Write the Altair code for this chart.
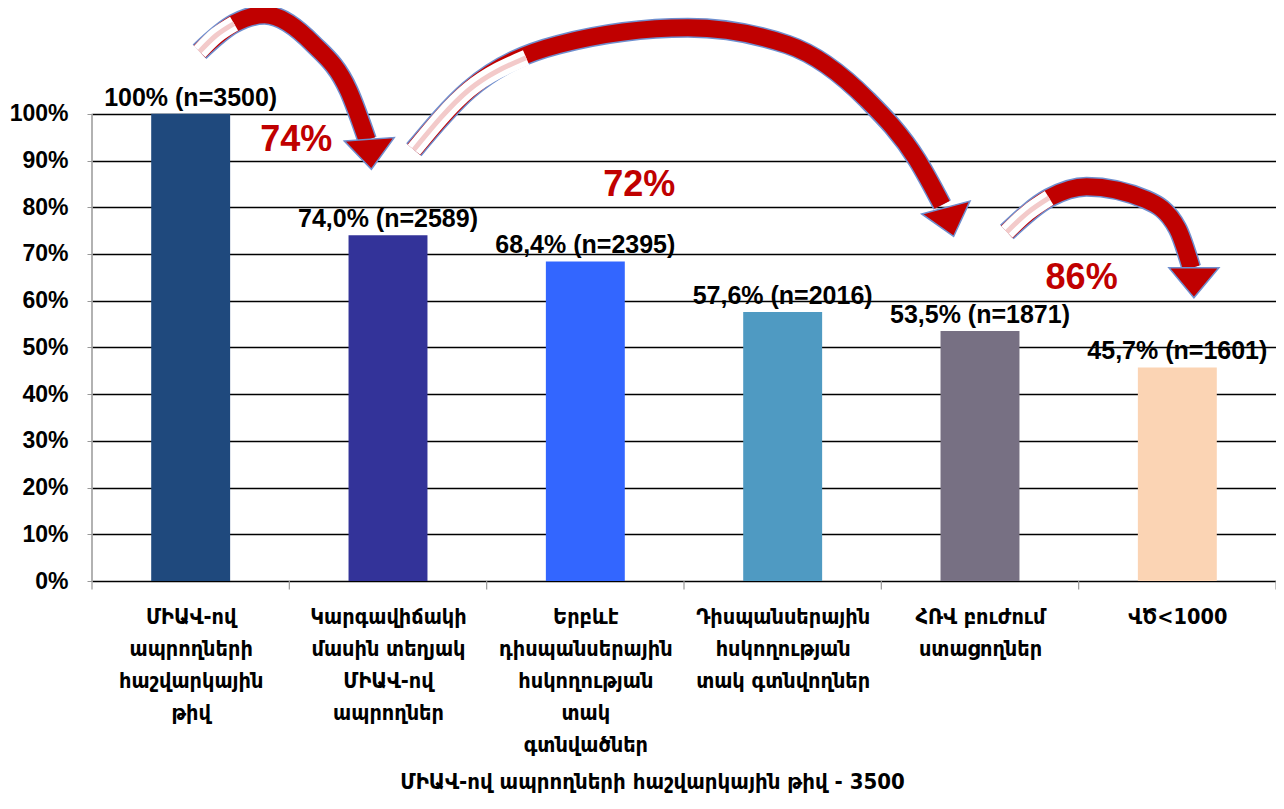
import altair as alt
import pandas as pd

# ---- data ----
categories = [
    "ՄԻԱՎ-ով|ապրողների|հաշվարկային|թիվ",
    "Կարգավիճակի|մասին տեղյակ|ՄԻԱՎ-ով|ապրողներ",
    "Երբևէ|դիսպանսերային|հսկողության|տակ|գտնվածներ",
    "Դիսպանսերային|հսկողության|տակ գտնվողներ",
    "ՀՌՎ բուժում|ստացողներ",
    "ՎԾ<1000",
]
values = [100.0, 74.0, 68.4, 57.6, 53.5, 45.7]
labels = ["100% (n=3500)", "74,0% (n=2589)", "68,4% (n=2395)",
          "57,6% (n=2016)", "53,5% (n=1871)", "45,7% (n=1601)"]
colors = ["#1F497D", "#333399", "#3366FF", "#4F9AC2", "#777083", "#FBD4B4"]

# conversion annotations (position in category units 0..6, y in %)
conv_text = ["74%", "72%", "86%"]
conv_x = [1.035, 2.773, 5.015]
conv_y = [94.3, 84.8, 64.9]

# full arrow paths (x in category units, y in %)
path_arrow = [1, 1, 1, 1, 1, 1,
              2, 2, 2, 2, 2, 2, 2, 2,
              3, 3, 3, 3, 3, 3]
path_x = [0.545, 0.72, 0.874, 1.12, 1.30, 1.394,
          1.631, 1.909, 2.364, 3.02, 3.525, 3.929, 4.182, 4.308,
          4.636, 4.85, 5.04, 5.343, 5.50, 5.571]
path_y = [113.3, 119.3, 121.2, 115.0, 105.0, 94.4,
          92.3, 105.1, 114.8, 118.4, 114.8, 103.0, 90.1, 80.5,
          74.7, 82.0, 84.4, 81.6, 75.5, 67.0]

# light (unfilled) rising part of each arrow
light_arrow = [1, 1, 1, 2, 2, 2, 3, 3, 3]
light_x = [0.545, 0.63, 0.72, 1.631, 1.909, 2.20, 4.636, 4.74, 4.85]
light_y = [113.3, 116.8, 119.3, 92.3, 105.1, 112.0, 74.7, 78.8, 82.0]

head_x = [1.410, 4.345, 5.584]
head_y = [91.6, 77.1, 64.1]
head_angle = [356, 345, 0]

# ---- frames ----
n = len(categories)
df = pd.DataFrame({"cat": categories, "val": values, "lab": labels})
df["pos"] = [i + 0.5 for i in range(n)]
df["x0"] = df["pos"] - 0.2
df["x1"] = df["pos"] + 0.2
path = pd.DataFrame({"arrow": path_arrow, "x": path_x, "y": path_y})
path["o"] = range(len(path))
light = pd.DataFrame({"arrow": light_arrow, "x": light_x, "y": light_y})
light["o"] = range(len(light))
heads = pd.DataFrame({"x": head_x, "y": head_y, "ang": head_angle})
conv = pd.DataFrame({"t": conv_text, "x": conv_x, "y": conv_y})
axline = pd.DataFrame({"y": [0], "y2": [100]})
ticks = pd.DataFrame({"x": list(range(n + 1)), "y": [0] * (n + 1), "y2": [-1.8] * (n + 1)})

LABEL_FONT = "Liberation Sans Narrow, Liberation Sans, Arial"
ARM_FONT = "DejaVu Sans Condensed, DejaVu Sans"

yscale = alt.Scale(domain=[0, 122], nice=False)
xlin = alt.Scale(domain=[0, n], nice=False, zero=False)

cat_js = "[" + ",".join("'" + c + "'" for c in categories) + "]"

yaxis = alt.Axis(
    values=list(range(0, 101, 10)), labelExpr="datum.value + '%'",
    title=None, domain=False, grid=True, gridColor="#000000", gridWidth=1.6,
    tickColor="#999999", tickSize=5, labelPadding=19,
    labelFont="Liberation Sans, Arial", labelFontSize=23, labelFontWeight="bold",
    labelColor="#000000",
)
xaxis = alt.Axis(
    title="ՄԻԱՎ-ով ապրողների հաշվարկային թիվ - 3500",
    values=[i + 0.5 for i in range(n)],
    labelExpr="split(" + cat_js + "[floor(datum.value)], '|')", labelAngle=0,
    labelFont=ARM_FONT, labelFontSize=21.5, labelFontWeight="bold",
    labelColor="#000000", labelLineHeight=32, labelPadding=25,
    labelBaseline="top", labelLimit=300, labelFlush=False, labelOverlap=False,
    domain=False, ticks=False, grid=False,
    titleFont=ARM_FONT, titleFontSize=22, titleFontWeight="bold",
    titleColor="#000000", titlePadding=16, titleX=560,
)

bars = alt.Chart(df).mark_bar().encode(
    x=alt.X("x0:Q", scale=xlin, axis=xaxis),
    x2="x1:Q",
    y=alt.Y("val:Q", scale=yscale, axis=yaxis),
    y2=alt.datum(0),
    color=alt.Color("cat:N", scale=alt.Scale(domain=categories, range=colors), legend=None),
)
texts = alt.Chart(df).mark_text(
    baseline="bottom", dy=-3, font=LABEL_FONT, fontSize=25, fontWeight="bold", color="#000000"
).encode(
    x=alt.X("pos:Q", scale=xlin),
    y=alt.Y("val:Q", scale=yscale),
    text="lab:N",
)
leftline = alt.Chart(axline).mark_rule(color="#999999", strokeWidth=1.5).encode(
    x=alt.value(0), y=alt.Y("y:Q", scale=yscale), y2="y2:Q"
)
tick_layer = alt.Chart(ticks).mark_rule(color="#999999", strokeWidth=1.2, clip=False).encode(
    x=alt.X("x:Q", scale=xlin), y=alt.Y("y:Q", scale=yscale), y2="y2:Q"
)

def line_layer(data, color, width):
    return alt.Chart(data).mark_line(
        interpolate="monotone", color=color, strokeWidth=width, strokeCap="butt"
    ).encode(
        x=alt.X("x:Q", scale=xlin),
        y=alt.Y("y:Q", scale=yscale),
        detail="arrow:N",
        order="o:Q",
    )

path_out = line_layer(path, "#6F8FCF", 20)
path_in = line_layer(path, "#C00000", 17)
light_in = line_layer(light, "#FFFFFF", 16)
light_tint = line_layer(light, "#F3CACA", 5)

head_layer = alt.Chart(heads).mark_point(
    shape="M -1 -0.55 L 1 -0.55 L 0 0.65 Z", filled=True, size=2500,
    color="#C00000", stroke="#6F8FCF", strokeWidth=1.5, opacity=1,
).encode(
    x=alt.X("x:Q", scale=xlin),
    y=alt.Y("y:Q", scale=yscale),
    angle=alt.Angle("ang:Q", scale=None),
)

conv_layer = alt.Chart(conv).mark_text(
    font="Liberation Sans, Arial", fontSize=36, fontWeight="bold", color="#C00000",
    baseline="middle", align="center",
).encode(
    x=alt.X("x:Q", scale=xlin),
    y=alt.Y("y:Q", scale=yscale),
    text="t:N",
)

chart = alt.layer(
    bars, texts, leftline, tick_layer, conv_layer,
    path_out, path_in, light_in, light_tint, head_layer
).properties(
    width=1184, height=570,
    autosize=alt.AutoSizeParams(type="none"),
    padding={"left": 84, "top": 3, "right": 0, "bottom": 220},
    background="#FFFFFF",
).configure_view(stroke=None)

chart.save("out.html", embed_options={"renderer": "svg", "actions": False})
